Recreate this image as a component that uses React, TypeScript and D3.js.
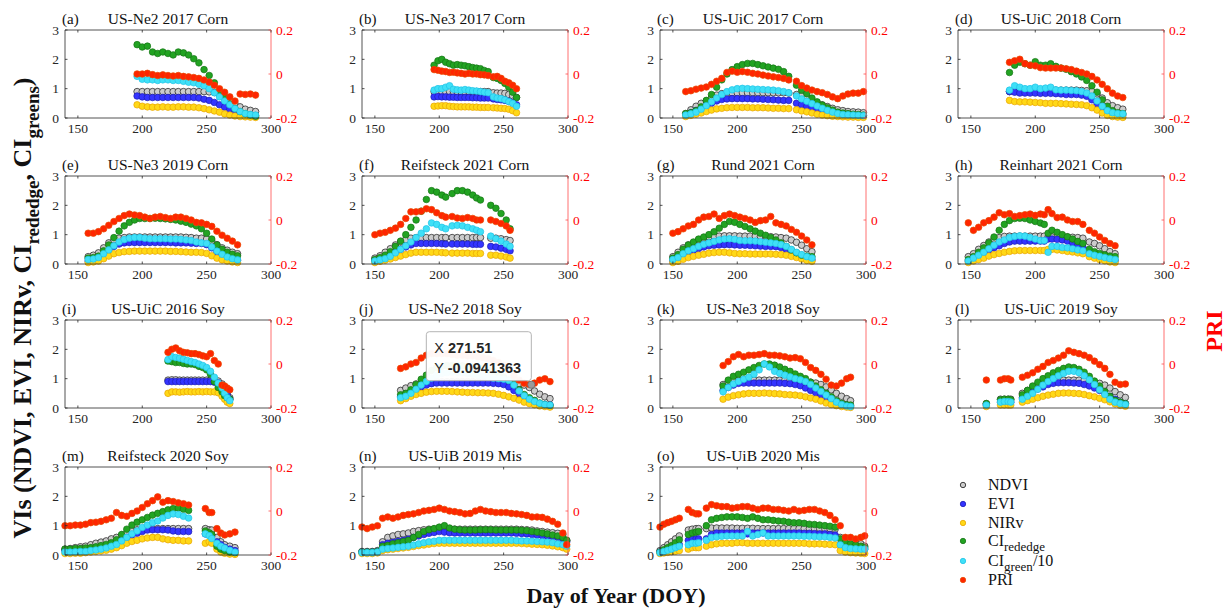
import React from 'react';
import * as d3 from 'd3';

// ---------- tick labels ----------
const xTicks = [150, 200, 250, 300];
const yLeftTicks = [0, 1, 2, 3];
const yRightTicks = [-0.2, 0, 0.2];
const xDomain = [140, 300];

// ---------- (a) US-Ne2 2017 Corn ----------
const aDoy = [196,200,204,208,212,216,220,224,228,232,236,240,244,248,252,256,260,264,268,272,276,280,284,288];
const aNdvi = [.9,.9,.9,.9,.9,.9,.9,.9,.9,.9,.9,.9,.9,.9,.89,.87,.8,.72,.6,.48,.38,.3,.26,.22];
const aEvi = [.75,.72,.7,.7,.7,.7,.7,.7,.7,.7,.7,.7,.68,.64,.6,.53,.45,.37,.29,.2,.14,.1,.09,.08];
const aNirv = [.45,.4,.38,.37,.37,.38,.37,.37,.38,.38,.37,.37,.35,.32,.28,.24,.2,.14,.1,.07,.05,.04,.03,.02];
const aCir = [2.5,2.42,2.45,2.25,2.2,2.25,2.2,2.15,2.25,2.22,2.15,2.02,1.88,1.65,1.45,1.2,.92,.68,.48,.32,.22,.15,.1,.06];
const aCig = [1.42,1.32,1.3,1.3,1.28,1.3,1.3,1.28,1.28,1.25,1.22,1.2,1.15,1.1,1.0,.86,.72,.58,.45,.32,.22,.15,.12,.1];
const aPri = [0,0,.003,-.003,-.007,-.004,-.007,-.009,-.007,-.011,-.013,-.016,-.02,-.027,-.037,-.051,-.067,-.083,-.104,-.123,-.091,-.093,-.091,-.096];

// ---------- (b) US-Ne3 2017 Corn ----------
const bDoy = [196,199,202,205,208,211,214,217,220,223,226,229,232,235,238,242,245,248,251,254,257,260];
const bNdvi = [.9,.9,.9,.9,.9,.9,.9,.9,.9,.9,.9,.9,.9,.9,.9,.86,.85,.85,.84,.8,.76,.7];
const bEvi = [.72,.73,.72,.72,.71,.71,.7,.7,.7,.7,.69,.69,.68,.68,.68,.65,.63,.62,.6,.57,.52,.45];
const bNirv = [.4,.41,.42,.42,.4,.39,.38,.38,.38,.38,.37,.37,.36,.36,.36,.35,.34,.33,.32,.3,.25,.18];
const bCir = [1.8,1.95,2.0,1.9,1.85,1.8,1.82,1.8,1.78,1.75,1.72,1.7,1.68,1.62,1.58,1.38,1.35,1.28,1.18,1.05,.88,.7];
const bCig = [.95,1.0,1.0,1.05,1.1,.98,.96,.95,.97,.95,.93,.92,.9,.88,.86,.72,.68,.66,.62,.56,.5,.4];
const bPri = [.02,.017,.013,.011,.007,.008,.005,.003,0,.003,0,0,-.003,-.004,-.007,-.013,-.011,-.02,-.033,-.04,-.051,-.067];

// ---------- (c) US-UiC 2017 Corn ----------
const cDoy = [160,164,168,172,176,180,184,188,192,196,200,204,208,212,216,220,224,228,232,236,240,246,250,254,258,262,266,270,274,278,282,286,290,294,298];
const cNdvi = [.15,.28,.4,.5,.58,.7,.78,.83,.85,.86,.86,.86,.86,.86,.86,.86,.86,.86,.86,.86,.85,.8,.75,.67,.6,.52,.45,.39,.33,.28,.25,.22,.21,.2,.18];
const cEvi = [.1,.18,.26,.34,.42,.5,.58,.63,.65,.66,.66,.66,.66,.65,.65,.64,.63,.62,.61,.6,.6,.5,.45,.39,.33,.27,.21,.16,.13,.11,.1,.09,.08,.08,.07];
const cNirv = [.05,.09,.13,.17,.22,.27,.31,.33,.35,.36,.36,.36,.36,.35,.35,.35,.34,.33,.33,.32,.32,.28,.24,.21,.17,.13,.1,.08,.06,.05,.04,.03,.03,.02,.02];
const cCir = [.15,.18,.25,.38,.6,.8,1.05,1.3,1.5,1.65,1.75,1.82,1.86,1.86,1.82,1.78,1.74,1.7,1.66,1.58,1.42,1.12,.95,.83,.68,.55,.44,.35,.27,.2,.17,.15,.13,.12,.1];
const cCig = [.1,.14,.2,.3,.42,.55,.68,.8,.9,.96,1.0,1.01,1.0,.99,.98,.97,.96,.95,.93,.9,.86,.75,.65,.57,.49,.41,.33,.26,.2,.15,.12,.11,.1,.09,.08];
const cPri = [-.08,-.076,-.069,-.064,-.059,-.047,-.033,-.02,.007,.013,.008,.011,.008,.003,0,-.005,-.009,-.013,-.016,-.02,-.027,-.033,-.053,-.064,-.073,-.08,-.085,-.093,-.104,-.112,-.1,-.091,-.087,-.087,-.08];

// ---------- (d) US-UiC 2018 Corn ----------
const dDoy = [180,184,188,192,196,200,204,208,212,216,220,224,228,232,236,240,244,248,252,256,260,264,268];
const dNdvi = [.9,.95,.95,.95,.95,.95,.95,.95,.95,.95,.95,.95,.95,.95,.94,.93,.9,.82,.68,.52,.42,.35,.3];
const dEvi = [.9,.88,.85,.85,.85,.85,.84,.84,.84,.83,.82,.8,.8,.8,.78,.74,.62,.48,.35,.22,.14,.11,.1];
const dNirv = [.6,.56,.55,.55,.54,.53,.52,.5,.5,.5,.49,.48,.47,.46,.45,.42,.35,.27,.17,.09,.05,.03,.02];
const dCir = [1.55,1.8,1.9,1.85,1.8,1.92,1.8,1.8,1.85,1.76,1.7,1.66,1.58,1.5,1.4,1.28,1.1,.88,.62,.4,.25,.18,.15];
const dCig = [.95,1.1,1.05,1.0,1.0,1.05,1.0,1.02,1.05,.96,.95,.95,.94,.93,.9,.85,.75,.58,.4,.25,.18,.15,.14];
const dPri = [.053,.06,.067,.047,.04,.037,.029,.027,.027,.027,.027,.024,.02,.013,.007,0,-.011,-.027,-.047,-.067,-.087,-.1,-.107];

// ---------- (e) US-Ne3 2019 Corn ----------
const eDoy = [158,162,166,170,174,178,182,186,190,194,198,202,206,210,214,218,222,226,230,234,238,242,246,250,254,258,262,266,270,274];
const eNdvi = [.25,.3,.38,.55,.72,.82,.88,.9,.92,.92,.92,.92,.92,.92,.92,.92,.92,.92,.92,.91,.9,.88,.88,.85,.78,.66,.55,.47,.4,.35];
const eEvi = [.1,.13,.18,.3,.46,.6,.68,.72,.73,.73,.73,.73,.73,.73,.73,.73,.73,.72,.72,.72,.71,.7,.7,.66,.55,.4,.3,.22,.17,.12];
const eNirv = [.05,.07,.1,.18,.27,.35,.39,.42,.43,.44,.44,.44,.44,.44,.44,.44,.43,.43,.42,.41,.4,.4,.39,.36,.28,.2,.14,.1,.07,.05];
const eCir = [.2,.22,.27,.45,.65,.9,1.12,1.3,1.42,1.5,1.55,1.55,1.55,1.56,1.55,1.54,1.52,1.5,1.46,1.42,1.36,1.3,1.2,1.05,.85,.65,.5,.4,.33,.28];
const eCig = [.15,.17,.22,.35,.48,.62,.75,.83,.88,.9,.9,.88,.86,.86,.86,.86,.85,.85,.84,.82,.8,.75,.72,.7,.58,.44,.33,.24,.18,.14];
const ePri = [-.06,-.06,-.053,-.04,-.024,-.007,.007,.02,.027,.023,.02,.013,.007,.013,.016,.011,.007,.013,.013,.007,0,-.011,-.013,-.02,-.029,-.051,-.069,-.083,-.096,-.113];

// ---------- (f) Reifsteck 2021 Corn ----------
const fDoy = [150,154,158,162,166,170,174,178,182,186,190,194,198,202,205,210,214,218,222,226,229,232,240,244,248,252,255];
const fNdvi = [.2,.28,.4,.52,.65,.75,.83,.88,.9,.9,.9,.9,.9,.9,.9,.9,.9,.9,.9,.9,.9,.9,.88,.88,.86,.83,.8];
const fEvi = [.1,.18,.26,.34,.42,.5,.58,.65,.7,.7,.7,.7,.7,.69,.68,.68,.68,.68,.68,.67,.67,.67,.6,.58,.54,.5,.45];
const fNirv = [.05,.09,.13,.17,.22,.27,.32,.37,.4,.4,.4,.4,.4,.39,.38,.37,.37,.37,.37,.36,.36,.36,.3,.3,.27,.24,.2];
const fCir = [.15,.22,.3,.42,.6,.78,1.0,1.25,1.5,1.8,2.2,2.5,2.45,2.35,2.28,2.4,2.5,2.5,2.45,2.35,2.25,2.18,2.0,1.9,1.72,1.5,1.2];
const fCig = [.1,.14,.18,.26,.38,.5,.62,.75,.9,1.05,1.2,1.4,1.35,1.25,1.2,1.3,1.32,1.3,1.25,1.2,1.15,1.1,.95,.86,.78,.68,.6];
const fPri = [-.067,-.06,-.056,-.047,-.037,-.02,.007,.037,.037,.04,.051,.047,.033,.02,.013,.016,.009,.007,.011,.007,0,0,0,-.007,-.016,-.027,-.047];

// ---------- (g) Rund 2021 Corn ----------
const gDoy = [150,154,158,162,166,170,174,178,182,186,190,194,198,202,206,210,214,218,222,226,230,234,238,242,246,250,254,258];
const gNdvi = [.25,.4,.55,.65,.72,.82,.88,.93,.95,.95,.96,.96,.96,.95,.95,.95,.95,.94,.94,.93,.92,.9,.88,.82,.74,.64,.52,.42];
const gEvi = [.1,.22,.32,.4,.47,.53,.58,.62,.64,.65,.66,.66,.65,.64,.64,.63,.62,.61,.6,.6,.59,.56,.5,.42,.34,.26,.19,.14];
const gNirv = [.05,.09,.16,.22,.26,.3,.33,.37,.39,.4,.4,.38,.36,.35,.35,.34,.34,.34,.34,.34,.33,.32,.3,.26,.22,.17,.12,.09];
const gCir = [.2,.32,.5,.65,.75,.85,.92,1.0,1.1,1.22,1.35,1.45,1.42,1.35,1.28,1.2,1.12,1.05,.98,.9,.82,.72,.6,.48,.38,.3,.27,.25];
const gCig = [.15,.22,.35,.45,.52,.6,.67,.72,.77,.82,.85,.86,.84,.8,.79,.79,.78,.76,.74,.72,.7,.66,.6,.5,.4,.32,.25,.2];
const gPri = [-.06,-.053,-.04,-.027,-.02,0,.013,.016,.027,.007,.02,.027,.02,.013,.007,0,-.011,-.003,0,.016,-.013,-.02,-.027,-.043,-.056,-.073,-.091,-.113];

// ---------- (h) Reinhart 2021 Corn ----------
const hDoy = [148,152,156,160,164,168,172,176,180,184,188,192,196,200,204,207,210,213,217,221,225,229,233,237,242,246,250,254,258,262];
const hNdvi = [.25,.35,.5,.63,.75,.85,.9,.94,.95,.95,.95,.95,.95,.95,.95,.95,.93,.92,.92,.92,.92,.91,.9,.88,.75,.7,.62,.52,.42,.35];
const hEvi = [.1,.2,.3,.38,.46,.55,.62,.7,.75,.78,.78,.78,.78,.78,.78,.78,.85,.85,.84,.82,.78,.72,.65,.57,.4,.32,.25,.2,.15,.12];
const hNirv = [.05,.1,.15,.2,.27,.32,.36,.4,.43,.45,.46,.46,.46,.46,.46,.46,.5,.5,.48,.46,.43,.41,.38,.35,.25,.2,.15,.11,.07,.05];
const hCir = [.15,.25,.4,.55,.72,.92,1.15,1.35,1.48,1.55,1.56,1.55,1.5,1.45,1.4,1.35,1.05,1.15,1.08,1.0,.93,.85,.77,.7,.5,.42,.36,.31,.27,.25];
const hCig = [.1,.2,.3,.4,.52,.64,.75,.82,.9,.94,.96,.95,.9,.85,.8,.8,.4,.6,.6,.56,.55,.52,.48,.45,.35,.3,.26,.22,.18,.15];
const hPri = [-.013,-.047,-.033,-.013,-.003,.013,.033,.024,.029,.016,.02,.024,.027,.021,.027,.024,.047,.029,.011,.013,0,-.007,-.007,-.02,-.047,-.06,-.077,-.093,-.107,-.117];

// ---------- (i) US-UiC 2016 Soy ----------
const iDoy = [220,223,226,229,232,235,238,241,244,247,250,253,256,259,262,264,266,268];
const iNdvi = [.95,.96,.96,.95,.95,.95,.95,.95,.95,.95,.95,.95,.94,.92,.82,.7,.52,.35];
const iEvi = [.9,.9,.9,.9,.9,.9,.9,.9,.9,.9,.9,.9,.88,.86,.75,.6,.45,.3];
const iNirv = [.5,.55,.55,.54,.55,.56,.55,.55,.56,.55,.56,.55,.55,.52,.4,.3,.2,.15];
const iCir = [1.6,1.58,1.55,1.55,1.52,1.5,1.5,1.48,1.42,1.38,1.3,1.15,.9,.7,.55,.42,.35,.3];
const iCig = [1.65,1.75,1.72,1.7,1.66,1.62,1.58,1.55,1.5,1.45,1.38,1.25,1.05,.85,.68,.5,.35,.25];
const iPri = [.053,.067,.073,.06,.053,.051,.047,.047,.043,.037,.033,.047,.016,0,-.096,-.1,-.109,-.117];

// ---------- (j) US-Ne2 2018 Soy ----------
const jDoy = [170,174,178,182,186,190,194,198,202,206,210,214,218,222,226,230,234,238,242,246,250,254,258,262,266,270,274,278,282,286];
const jNdvi = [.6,.68,.76,.82,.86,.88,.9,.9,.9,.9,.9,.9,.9,.9,.9,.9,.9,.9,.9,.9,.9,.88,.86,.83,.78,.7,.58,.47,.38,.32];
const jEvi = [.4,.48,.56,.64,.72,.78,.83,.85,.85,.85,.85,.85,.85,.85,.85,.85,.85,.85,.84,.83,.8,.72,.6,.48,.38,.3,.22,.15,.12,.1];
const jNirv = [.25,.32,.4,.46,.5,.54,.56,.57,.57,.57,.56,.55,.54,.53,.53,.52,.52,.51,.5,.47,.43,.38,.33,.27,.2,.15,.11,.07,.05,.03];
const jCir = [.45,.5,.62,.8,.98,1.12,1.28,1.38,1.42,1.45,1.45,1.45,1.44,1.42,1.4,1.38,1.35,1.3,1.25,1.15,1.05,.95,.8,.62,.46,.35,.26,.17,.12,.09];
const jCig = [.35,.4,.5,.64,.78,.9,1.02,1.12,1.18,1.2,1.22,1.22,1.2,1.18,1.15,1.12,1.1,1.06,1.02,1.0,.98,.94,.78,.58,.42,.3,.22,.16,.12,.1];
const jPri = [-.02,-.013,0,.007,.027,.04,.047,.047,.047,.047,.043,.04,.04,.037,.037,.033,.029,.024,.016,.007,-.007,-.027,-.053,-.073,-.087,-.093,-.087,-.073,-.067,-.08];
const jTipX = 271.51;
const jTipY = -0.0941363;

// ---------- (k) US-Ne3 2018 Soy ----------
const kDoy = [189,193,197,201,205,209,213,217,221,225,229,233,237,241,245,249,253,257,261,265,269,273,277,281,285,288];
const kNdvi = [.8,.88,.92,.95,.95,.95,.95,.95,.95,.95,.95,.95,.95,.95,.95,.94,.92,.88,.85,.8,.72,.62,.5,.4,.32,.25];
const kEvi = [.6,.7,.78,.84,.85,.85,.85,.85,.85,.85,.85,.85,.84,.83,.8,.76,.68,.6,.52,.44,.36,.28,.2,.13,.09,.07];
const kNirv = [.3,.37,.42,.45,.48,.5,.5,.5,.51,.5,.49,.48,.46,.45,.44,.42,.38,.34,.3,.24,.17,.12,.08,.05,.03,.02];
const kCir = [.75,.95,1.08,1.15,1.22,1.3,1.38,1.45,1.5,1.5,1.46,1.4,1.32,1.25,1.16,1.08,1.0,.88,.75,.62,.5,.38,.25,.16,.11,.1];
const kCig = [.55,.7,.82,.9,.98,1.05,1.15,1.3,1.5,1.4,1.25,1.18,1.12,1.06,1.0,.96,.9,.8,.68,.56,.44,.32,.2,.12,.07,.05];
const kPri = [-.007,.011,.033,.043,.033,.04,.04,.043,.047,.04,.04,.037,.033,.027,.029,.024,.007,-.016,-.029,-.047,-.069,-.096,-.1,-.087,-.067,-.06];

// ---------- (l) US-UiC 2019 Soy ----------
const lDoy = [162,173,176,179,181,190,194,198,202,206,210,214,218,222,226,230,234,238,242,246,250,254,258,262,266,270];
const lNdvi = [.15,.3,.3,.3,.3,.5,.6,.7,.8,.85,.9,.93,.95,.95,.95,.95,.95,.95,.92,.88,.84,.78,.68,.56,.45,.36];
const lEvi = [.1,.2,.2,.2,.2,.35,.45,.55,.65,.72,.8,.84,.86,.86,.86,.85,.84,.8,.75,.68,.6,.5,.4,.3,.2,.15];
const lNirv = [.05,.1,.1,.1,.1,.2,.25,.3,.35,.4,.44,.47,.5,.51,.51,.5,.49,.46,.42,.38,.33,.28,.21,.14,.09,.06];
const lCir = [.15,.28,.3,.3,.28,.45,.6,.75,.88,1.0,1.1,1.2,1.28,1.35,1.4,1.38,1.32,1.22,1.08,.92,.75,.56,.4,.26,.2,.15];
const lCig = [.1,.2,.22,.22,.2,.3,.4,.5,.64,.78,.9,1.0,1.1,1.18,1.25,1.25,1.2,1.1,.96,.8,.62,.46,.3,.2,.15,.12];
const lPri = [-.073,-.073,-.067,-.067,-.073,-.06,-.051,-.04,-.024,-.011,.007,.016,.027,.04,.06,.053,.047,.04,.029,.013,-.003,-.02,-.047,-.083,-.093,-.091];

// ---------- (m) Reifsteck 2020 Soy ----------
const mDoy = [140,144,148,152,156,160,164,168,172,176,180,184,188,192,196,200,204,208,212,216,220,224,228,232,236,249,252,254,258,261,264,268,272];
const mNdvi = [.2,.22,.25,.28,.3,.35,.4,.44,.48,.55,.6,.68,.76,.82,.86,.9,.9,.9,.9,.9,.9,.9,.9,.9,.9,.9,.86,.85,.6,.45,.35,.3,.25];
const mEvi = [.15,.16,.18,.2,.2,.22,.26,.28,.32,.36,.4,.5,.6,.68,.74,.8,.85,.86,.86,.86,.85,.82,.8,.8,.8,.72,.7,.65,.45,.35,.26,.2,.15];
const mNirv = [.05,.05,.06,.06,.08,.1,.12,.14,.16,.2,.25,.32,.4,.46,.5,.55,.58,.6,.6,.55,.52,.5,.5,.48,.48,.4,.45,.4,.2,.1,.06,.03,.02];
const mCir = [.2,.2,.22,.22,.24,.25,.28,.32,.36,.42,.52,.7,.88,1.02,1.12,1.2,1.28,1.36,1.42,1.48,1.54,1.58,1.6,1.56,1.52,.82,.76,.7,.3,.2,.15,.1,.08];
const mCig = [.1,.1,.11,.12,.12,.15,.17,.2,.24,.3,.36,.48,.6,.72,.82,.94,1.02,1.1,1.16,1.26,1.35,1.4,1.38,1.32,1.26,.72,.66,.56,.4,.3,.24,.16,.1];
const mPri = [-.067,-.067,-.064,-.064,-.06,-.053,-.051,-.047,-.04,-.033,-.007,-.02,-.024,-.011,0,.016,.033,.047,.064,.04,.047,.043,.037,.033,.027,.011,-.007,-.007,-.08,-.1,-.109,-.104,-.096];

// ---------- (n) US-UiB 2019 Mis ----------
const nDoy = [140,144,148,152,156,160,164,168,172,176,180,184,188,192,196,200,204,208,212,216,220,224,228,232,236,240,244,248,252,256,260,264,268,272,276,280,284,288,292,296,299];
const nNdvi = [.12,.12,.12,.15,.45,.6,.65,.7,.72,.75,.8,.83,.86,.88,.88,.88,.88,.88,.88,.88,.88,.88,.88,.88,.88,.88,.88,.88,.88,.88,.88,.87,.86,.85,.82,.8,.78,.76,.74,.7,.5];
const nEvi = [.1,.1,.1,.12,.35,.4,.43,.47,.5,.54,.6,.65,.7,.74,.77,.8,.78,.76,.75,.75,.75,.75,.75,.75,.75,.75,.75,.75,.75,.75,.74,.73,.72,.7,.68,.66,.65,.63,.6,.55,.45];
const nNirv = [.05,.05,.05,.07,.15,.18,.2,.22,.24,.26,.29,.32,.34,.37,.39,.4,.4,.4,.4,.4,.4,.4,.4,.4,.4,.4,.4,.4,.4,.4,.4,.39,.38,.37,.36,.35,.33,.31,.28,.25,.2];
const nCir = [.1,.1,.1,.12,.3,.33,.38,.42,.46,.5,.6,.7,.8,.86,.9,.95,1.0,.92,.88,.86,.85,.85,.85,.86,.86,.86,.85,.85,.85,.85,.85,.84,.83,.8,.78,.75,.72,.68,.65,.6,.5];
const nCig = [.08,.08,.08,.1,.2,.22,.24,.26,.28,.3,.34,.38,.42,.45,.47,.5,.5,.5,.5,.5,.5,.5,.5,.5,.5,.5,.5,.5,.5,.5,.49,.48,.48,.47,.46,.45,.44,.42,.38,.35,.3];
const nPri = [-.073,-.08,-.073,-.067,-.033,-.027,-.033,-.027,-.02,-.016,-.013,-.007,0,.003,.007,.013,.007,0,-.003,-.007,-.013,-.011,0,.007,0,-.003,-.007,-.007,-.007,-.011,-.013,-.016,-.02,-.027,-.027,-.029,-.037,-.047,-.06,-.1,-.153];

// ---------- (o) US-UiB 2020 Mis ----------
const oDoy = [140,143,146,149,152,155,162,165,168,170,176,180,184,188,192,196,200,204,208,212,216,220,224,228,232,236,240,244,248,252,256,260,264,268,272,276,280,284,288,292,296,299];
const oNdvi = [.15,.25,.35,.45,.55,.65,.85,.88,.9,.9,.9,.92,.92,.92,.92,.92,.91,.91,.91,.91,.9,.9,.9,.9,.9,.9,.9,.9,.9,.9,.9,.9,.9,.9,.9,.88,.6,.5,.45,.42,.38,.3];
const oEvi = [.1,.14,.2,.26,.3,.35,.5,.55,.55,.55,.55,.7,.75,.75,.75,.75,.75,.75,.72,.75,.75,.75,.75,.75,.75,.75,.75,.75,.75,.74,.74,.73,.72,.72,.7,.68,.35,.3,.26,.24,.22,.2];
const oNirv = [.05,.07,.09,.11,.13,.15,.2,.25,.25,.25,.3,.35,.38,.4,.4,.4,.42,.42,.4,.4,.4,.4,.4,.4,.4,.4,.4,.4,.4,.4,.38,.38,.38,.37,.36,.35,.15,.1,.08,.07,.06,.05];
const oCir = [.1,.18,.25,.32,.42,.52,.7,.75,.78,.8,1.0,1.2,1.25,1.28,1.3,1.3,1.3,1.28,1.25,1.3,1.25,1.2,1.2,1.18,1.16,1.15,1.12,1.1,1.1,1.08,1.05,1.04,1.02,1.0,.98,.95,.55,.42,.38,.34,.3,.25];
const oCig = [.08,.12,.16,.2,.25,.3,.35,.4,.4,.42,.5,.6,.62,.64,.65,.65,.65,.65,.8,.65,.7,.75,.65,.65,.65,.65,.65,.65,.65,.64,.64,.63,.62,.62,.6,.58,.35,.25,.22,.21,.2,.2];
const oPri = [-.073,-.06,-.053,-.047,-.04,-.033,.007,-.007,-.013,-.013,.013,.029,.024,.02,.02,.013,.016,.02,.02,.013,.007,.013,.013,.007,.007,.003,0,.007,0,.003,.007,.007,0,-.007,-.02,-.04,-.067,-.12,-.12,-.127,-.12,-.113];

type Panel = {
  tag: string; title: string; doy: number[];
  ndvi: number[]; evi: number[]; nirv: number[]; cir: number[]; cig: number[]; pri: number[];
};

const panels: Panel[] = [
  { tag: '(a)', title: 'US-Ne2 2017 Corn', doy: aDoy, ndvi: aNdvi, evi: aEvi, nirv: aNirv, cir: aCir, cig: aCig, pri: aPri },
  { tag: '(b)', title: 'US-Ne3 2017 Corn', doy: bDoy, ndvi: bNdvi, evi: bEvi, nirv: bNirv, cir: bCir, cig: bCig, pri: bPri },
  { tag: '(c)', title: 'US-UiC 2017 Corn', doy: cDoy, ndvi: cNdvi, evi: cEvi, nirv: cNirv, cir: cCir, cig: cCig, pri: cPri },
  { tag: '(d)', title: 'US-UiC 2018 Corn', doy: dDoy, ndvi: dNdvi, evi: dEvi, nirv: dNirv, cir: dCir, cig: dCig, pri: dPri },
  { tag: '(e)', title: 'US-Ne3 2019 Corn', doy: eDoy, ndvi: eNdvi, evi: eEvi, nirv: eNirv, cir: eCir, cig: eCig, pri: ePri },
  { tag: '(f)', title: 'Reifsteck 2021 Corn', doy: fDoy, ndvi: fNdvi, evi: fEvi, nirv: fNirv, cir: fCir, cig: fCig, pri: fPri },
  { tag: '(g)', title: 'Rund 2021 Corn', doy: gDoy, ndvi: gNdvi, evi: gEvi, nirv: gNirv, cir: gCir, cig: gCig, pri: gPri },
  { tag: '(h)', title: 'Reinhart 2021 Corn', doy: hDoy, ndvi: hNdvi, evi: hEvi, nirv: hNirv, cir: hCir, cig: hCig, pri: hPri },
  { tag: '(i)', title: 'US-UiC 2016 Soy', doy: iDoy, ndvi: iNdvi, evi: iEvi, nirv: iNirv, cir: iCir, cig: iCig, pri: iPri },
  { tag: '(j)', title: 'US-Ne2 2018 Soy', doy: jDoy, ndvi: jNdvi, evi: jEvi, nirv: jNirv, cir: jCir, cig: jCig, pri: jPri },
  { tag: '(k)', title: 'US-Ne3 2018 Soy', doy: kDoy, ndvi: kNdvi, evi: kEvi, nirv: kNirv, cir: kCir, cig: kCig, pri: kPri },
  { tag: '(l)', title: 'US-UiC 2019 Soy', doy: lDoy, ndvi: lNdvi, evi: lEvi, nirv: lNirv, cir: lCir, cig: lCig, pri: lPri },
  { tag: '(m)', title: 'Reifsteck 2020 Soy', doy: mDoy, ndvi: mNdvi, evi: mEvi, nirv: mNirv, cir: mCir, cig: mCig, pri: mPri },
  { tag: '(n)', title: 'US-UiB 2019 Mis', doy: nDoy, ndvi: nNdvi, evi: nEvi, nirv: nNirv, cir: nCir, cig: nCig, pri: nPri },
  { tag: '(o)', title: 'US-UiB 2020 Mis', doy: oDoy, ndvi: oNdvi, evi: oEvi, nirv: oNirv, cir: oCir, cig: oCig, pri: oPri },
];

const STYLE: Record<string, { fill: string; stroke: string }> = {
  ndvi: { fill: '#cccccc', stroke: '#1a1a1a' },
  evi: { fill: '#3434ff', stroke: '#1c1cb4' },
  nirv: { fill: '#ffd817', stroke: '#e8a400' },
  cir: { fill: '#22a322', stroke: '#167516' },
  cig: { fill: '#3fe0f7', stroke: '#1fc3e6' },
  pri: { fill: '#ff2500', stroke: '#e84a00' },
};
const VI_KEYS = ['ndvi', 'evi', 'nirv', 'cir', 'cig'] as const;

const COL_LEFT = [65, 362, 660, 958];
const ROW_TOP = [30, 176, 320, 467];
const PW = 206;
const PH = 88;
const SERIF = '"Liberation Serif", "Times New Roman", serif';
const SANS = '"Liberation Sans", Arial, sans-serif';
const AXIS = '#262626';
const RED_AXIS = '#ff4d4d';
const R = 3.3;

function PanelView({ p, idx }: { p: Panel; idx: number }) {
  const left = COL_LEFT[idx % 4];
  const top = ROW_TOP[Math.floor(idx / 4)];
  const x = d3.scaleLinear().domain(xDomain).range([0, PW]);
  const yL = d3.scaleLinear().domain([0, 3]).range([PH, 0]);
  const yR = d3.scaleLinear().domain([-0.2, 0.2]).range([PH, 0]);
  const tl = 2.5;
  return (
    <g transform={`translate(${left},${top})`}>
      {VI_KEYS.map((k) => (
        <g key={k}>
          {p.doy.map((d, j) => (
            <circle key={j} cx={x(d)} cy={yL((p as any)[k][j])} r={R}
              fill={STYLE[k].fill} stroke={STYLE[k].stroke} strokeWidth={0.7} />
          ))}
        </g>
      ))}
      <g>
        {p.doy.map((d, j) => (
          <circle key={j} cx={x(d)} cy={yR(p.pri[j])} r={R}
            fill={STYLE.pri.fill} stroke={STYLE.pri.stroke} strokeWidth={0.7} />
        ))}
      </g>
      <line x1={0} y1={0} x2={PW} y2={0} stroke={AXIS} strokeWidth={0.8} />
      <line x1={0} y1={PH} x2={PW} y2={PH} stroke={AXIS} strokeWidth={0.8} />
      <line x1={0} y1={0} x2={0} y2={PH} stroke={AXIS} strokeWidth={0.8} />
      <line x1={PW} y1={0} x2={PW} y2={PH} stroke={RED_AXIS} strokeWidth={0.8} />
      {xTicks.map((t) => (
        <g key={t}>
          <line x1={x(t)} x2={x(t)} y1={PH} y2={PH - tl} stroke={AXIS} strokeWidth={0.8} />
          <line x1={x(t)} x2={x(t)} y1={0} y2={tl} stroke={AXIS} strokeWidth={0.8} />
          <text x={x(t)} y={PH + 15} textAnchor="middle" fontFamily={SERIF} fontSize={13.5} fill="#262626">{t}</text>
        </g>
      ))}
      {yLeftTicks.map((t) => (
        <g key={t}>
          <line x1={0} x2={tl} y1={yL(t)} y2={yL(t)} stroke={AXIS} strokeWidth={0.8} />
          <text x={-6} y={yL(t) + 4.5} textAnchor="end" fontFamily={SERIF} fontSize={13.5} fill="#262626">{t}</text>
        </g>
      ))}
      {yRightTicks.map((t) => (
        <g key={t}>
          <line x1={PW} x2={PW - tl} y1={yR(t)} y2={yR(t)} stroke={RED_AXIS} strokeWidth={0.8} />
          <text x={PW + 5} y={yR(t) + 4.5} textAnchor="start" fontFamily={SERIF} fontSize={13.5} fill="#ff0000">{t === 0 ? '0' : t.toFixed(1)}</text>
        </g>
      ))}
      <text x={-3} y={-6} fontFamily={SERIF} fontSize={15} fill="#111">{p.tag}</text>
      <text x={PW / 2} y={-6} textAnchor="middle" fontFamily={SERIF} fontSize={15.5} fill="#111">{p.title}</text>
      {p.tag === '(j)' && (
        <g>
          <circle cx={x(jTipX)} cy={yR(jTipY)} r={3.6} fill="#9a9a9a" stroke="#6e6e6e" strokeWidth={0.8} />
          <rect x={x(jTipX) - 105} y={yR(jTipY) - 53} width={105} height={49} rx={3}
            fill="#ffffff" fillOpacity={0.96} stroke="#b4b4b4" strokeWidth={1} />
          <text x={x(jTipX) - 97} y={yR(jTipY) - 32} fontFamily={SANS} fontSize={14.5} fill="#262626">
            <tspan>X </tspan><tspan fontWeight="bold">{jTipX}</tspan>
          </text>
          <text x={x(jTipX) - 97} y={yR(jTipY) - 12} fontFamily={SANS} fontSize={14.5} fill="#262626">
            <tspan>Y </tspan><tspan fontWeight="bold">{jTipY}</tspan>
          </text>
        </g>
      )}
    </g>
  );
}

const legendItems = [
  { key: 'ndvi', label: 'NDVI' },
  { key: 'evi', label: 'EVI' },
  { key: 'nirv', label: 'NIRv' },
  { key: 'cir', label: 'CI', sub: 'rededge' },
  { key: 'cig', label: 'CI', sub: 'green', after: '/10' },
  { key: 'pri', label: 'PRI' },
];
const legendRowY = [485, 504, 523, 541, 561, 580];

export default function App() {
  return (
    <svg width={1231} height={608} style={{ position: 'absolute', left: 0, top: 0, background: '#fff' }}>
      <rect x={0} y={0} width={1231} height={608} fill="#ffffff" />
      {panels.map((p, i) => <PanelView key={p.tag} p={p} idx={i} />)}

      <g transform="translate(963,0)">
        {legendItems.map((it, i) => (
          <g key={it.key} transform={`translate(0,${legendRowY[i]})`}>
            <circle cx={0} cy={0} r={2.7} fill={STYLE[it.key].fill} stroke={STYLE[it.key].stroke} strokeWidth={0.8} />
            <text x={25} y={5} fontFamily={SERIF} fontSize={16} fill="#111">
              <tspan>{it.label}</tspan>
              {it.sub && <tspan dy={5} fontSize={13}>{it.sub}</tspan>}
              {it.after && <tspan dy={-5}>{it.after}</tspan>}
            </text>
          </g>
        ))}
      </g>

      <text transform="translate(31,308) rotate(-90)" textAnchor="middle" fontFamily={SERIF} fontSize={26} fontWeight="bold" fill="#111">
        <tspan>VIs (NDVI, EVI, NIRv, CI</tspan>
        <tspan dy={8} fontSize={19}>rededge</tspan>
        <tspan dy={-8}>, CI</tspan>
        <tspan dy={8} fontSize={19}>greens</tspan>
        <tspan dy={-8}>)</tspan>
      </text>
      <text transform="translate(1222,331) rotate(-90)" textAnchor="middle" fontFamily={SERIF} fontSize={24} fontWeight="bold" fill="#ff0000">PRI</text>
      <text x={616} y={603} textAnchor="middle" fontFamily={SERIF} fontSize={22} fontWeight="bold" fill="#111">Day of Year (DOY)</text>
    </svg>
  );
}
